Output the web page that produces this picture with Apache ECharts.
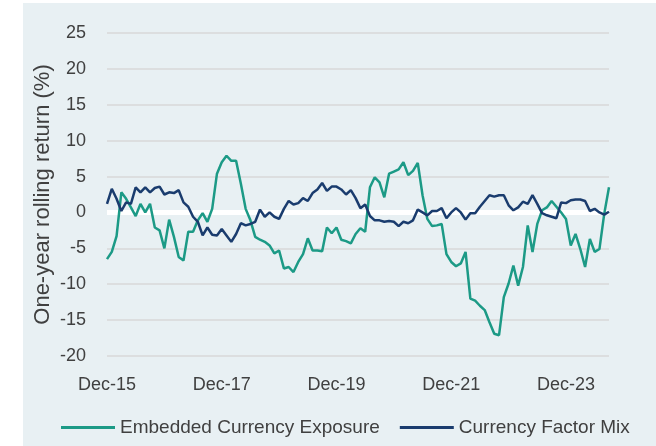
<!DOCTYPE html>
<html>
<head>
<meta charset="utf-8">
<script src="https://cdn.jsdelivr.net/npm/echarts@6/dist/echarts.min.js"></script>
<style>
  html, body { margin: 0; padding: 0; background: #ffffff; }
  #chart { width: 656px; height: 446px; }
</style>
</head>
<body>
<div id="chart"></div>
<script>
// Monthly observations, Dec-15 through Sep-24
const startYear = 2015;
const startMonth = 11; // December (0-based)
const monthCount = 106;

const embeddedCurrencyExposure = [
  -6.5, -5.5, -3.3, 2.8, 1.9, 0.7, -0.5, 1.2, 0.0, 1.2,
  -2.1, -2.5, -5.0, -1.0, -3.4, -6.2, -6.7, -2.7, -2.7, -1.1,
  -0.1, -1.3, 0.5, 5.4, 7.0, 7.9, 7.2, 7.2, 4.0, 0.5,
  -1.1, -3.4, -3.8, -4.1, -4.6, -5.7, -5.3, -7.8, -7.6, -8.3,
  -6.9, -5.8, -3.6, -5.3, -5.3, -5.4, -2.1, -2.9, -2.1, -3.8,
  -4.0, -4.3, -3.0, -2.2, -2.7, 3.5, 4.9, 4.2, 2.1, 5.4,
  5.7, 6.0, 7.0, 5.2, 5.8, 6.9, 2.4, -0.9, -1.9, -1.8,
  -1.6, -5.8, -6.9, -7.5, -7.1, -5.5, -12.0, -12.3, -13.0, -13.6,
  -15.3, -16.9, -17.1, -11.8, -9.9, -7.4, -10.2, -7.6, -1.8, -5.5,
  -1.6, 0.3, 0.7, 1.6, 0.8, 0.0, -0.9, -4.6, -3.0, -5.1,
  -7.6, -3.7, -5.5, -5.1, -0.2, 3.5
];

const currencyFactorMix = [
  1.2, 3.3, 1.9, 0.2, 1.4, 1.2, 3.5, 2.8, 3.5, 2.8,
  3.4, 3.6, 2.5, 2.8, 2.7, 3.1, 1.4, 0.8, -0.6, -1.3,
  -3.2, -2.1, -3.1, -3.2, -2.3, -3.2, -4.1, -3.0, -1.5, -1.8,
  -1.6, -1.3, 0.4, -0.6, 0.0, -0.6, -0.9, 0.5, 1.6, 1.1,
  1.3, 2.0, 1.6, 2.7, 3.2, 4.1, 3.0, 3.6, 3.6, 3.2,
  2.5, 3.1, 2.0, 0.6, 1.1, -0.5, -1.1, -1.1, -1.3, -1.2,
  -1.3, -1.9, -1.3, -1.5, -1.1, 0.4, 0.0, -0.4, 0.2, 0.2,
  0.6, -0.8, 0.0, 0.6, 0.0, -1.0, -0.1, -0.1, 0.8, 1.6,
  2.4, 2.2, 2.4, 2.4, 1.0, 0.3, 0.7, 1.5, 1.2, 2.4,
  1.2, -0.1, -0.4, -0.6, -0.8, 1.4, 1.3, 1.7, 1.8, 1.8,
  1.6, 0.2, 0.5, 0.0, -0.3, 0.1
];

const yTicks = { min: -20, max: 25, step: 5 };
const seriesNames = ['Embedded Currency Exposure', 'Currency Factor Mix'];
const axisTitle = 'One-year rolling return (%)';

const monthNames = ['Jan','Feb','Mar','Apr','May','Jun','Jul','Aug','Sep','Oct','Nov','Dec'];
const months = [];
for (let i = 0; i < monthCount; i++) {
  const m = (startMonth + i) % 12;
  const y = startYear + Math.floor((startMonth + i) / 12);
  months.push(monthNames[m] + '-' + String(y).slice(2));
}
// Horizontal reference at zero, one point per month
const zeroLine = months.map(() => 0);

const FONT = 'Liberation Sans';
const TEXT = '#404040';

const chart = echarts.init(document.getElementById('chart'), null, { renderer: 'canvas' });
chart.setOption({
  animation: false,
  backgroundColor: '#ffffff',
  textStyle: { fontFamily: FONT },
  graphic: [{
    type: 'rect',
    z: -10,
    silent: true,
    shape: { x: 23, y: 3, width: 633, height: 443 },
    style: { fill: '#e8f0f3' }
  }],
  grid: { left: 107, right: 47, top: 33, bottom: 90 },
  legend: {
    bottom: 4,
    left: 56,
    itemWidth: 54,
    itemHeight: 3,
    itemGap: 20,
    icon: 'rect',
    textStyle: { fontFamily: FONT, fontSize: 19, color: TEXT },
    data: seriesNames
  },
  xAxis: {
    type: 'category',
    data: months,
    boundaryGap: false,
    axisLine: { show: false },
    axisTick: { show: false },
    splitLine: { show: false },
    axisLabel: {
      interval: 23,
      margin: 20,
      fontFamily: FONT,
      fontSize: 18,
      color: TEXT
    }
  },
  yAxis: {
    type: 'value',
    min: yTicks.min,
    max: yTicks.max,
    interval: yTicks.step,
    name: axisTitle,
    nameLocation: 'middle',
    nameGap: 53,
    nameMoveOverlap: false,
    nameTextStyle: { fontFamily: FONT, fontSize: 22, color: TEXT },
    axisLine: { show: false },
    axisTick: { show: false },
    axisLabel: { margin: 21, fontFamily: FONT, fontSize: 18, color: TEXT },
    splitLine: { lineStyle: { color: '#d9d9d9', width: 1.5 } }
  },
  series: [
    {
      name: 'zero',
      type: 'line',
      data: zeroLine,
      z: 1,
      silent: true,
      showSymbol: false,
      lineStyle: { color: '#ffffff', width: 5 },
      itemStyle: { color: '#ffffff' }
    },
    {
      name: seriesNames[0],
      type: 'line',
      data: embeddedCurrencyExposure,
      showSymbol: false,
      z: 3,
      lineStyle: { color: '#1c9a86', width: 2.5 },
      itemStyle: { color: '#1c9a86' }
    },
    {
      name: seriesNames[1],
      type: 'line',
      data: currencyFactorMix,
      showSymbol: false,
      z: 4,
      lineStyle: { color: '#1a3c6e', width: 2.5 },
      itemStyle: { color: '#1a3c6e' }
    }
  ]
});
</script>
</body>
</html>
